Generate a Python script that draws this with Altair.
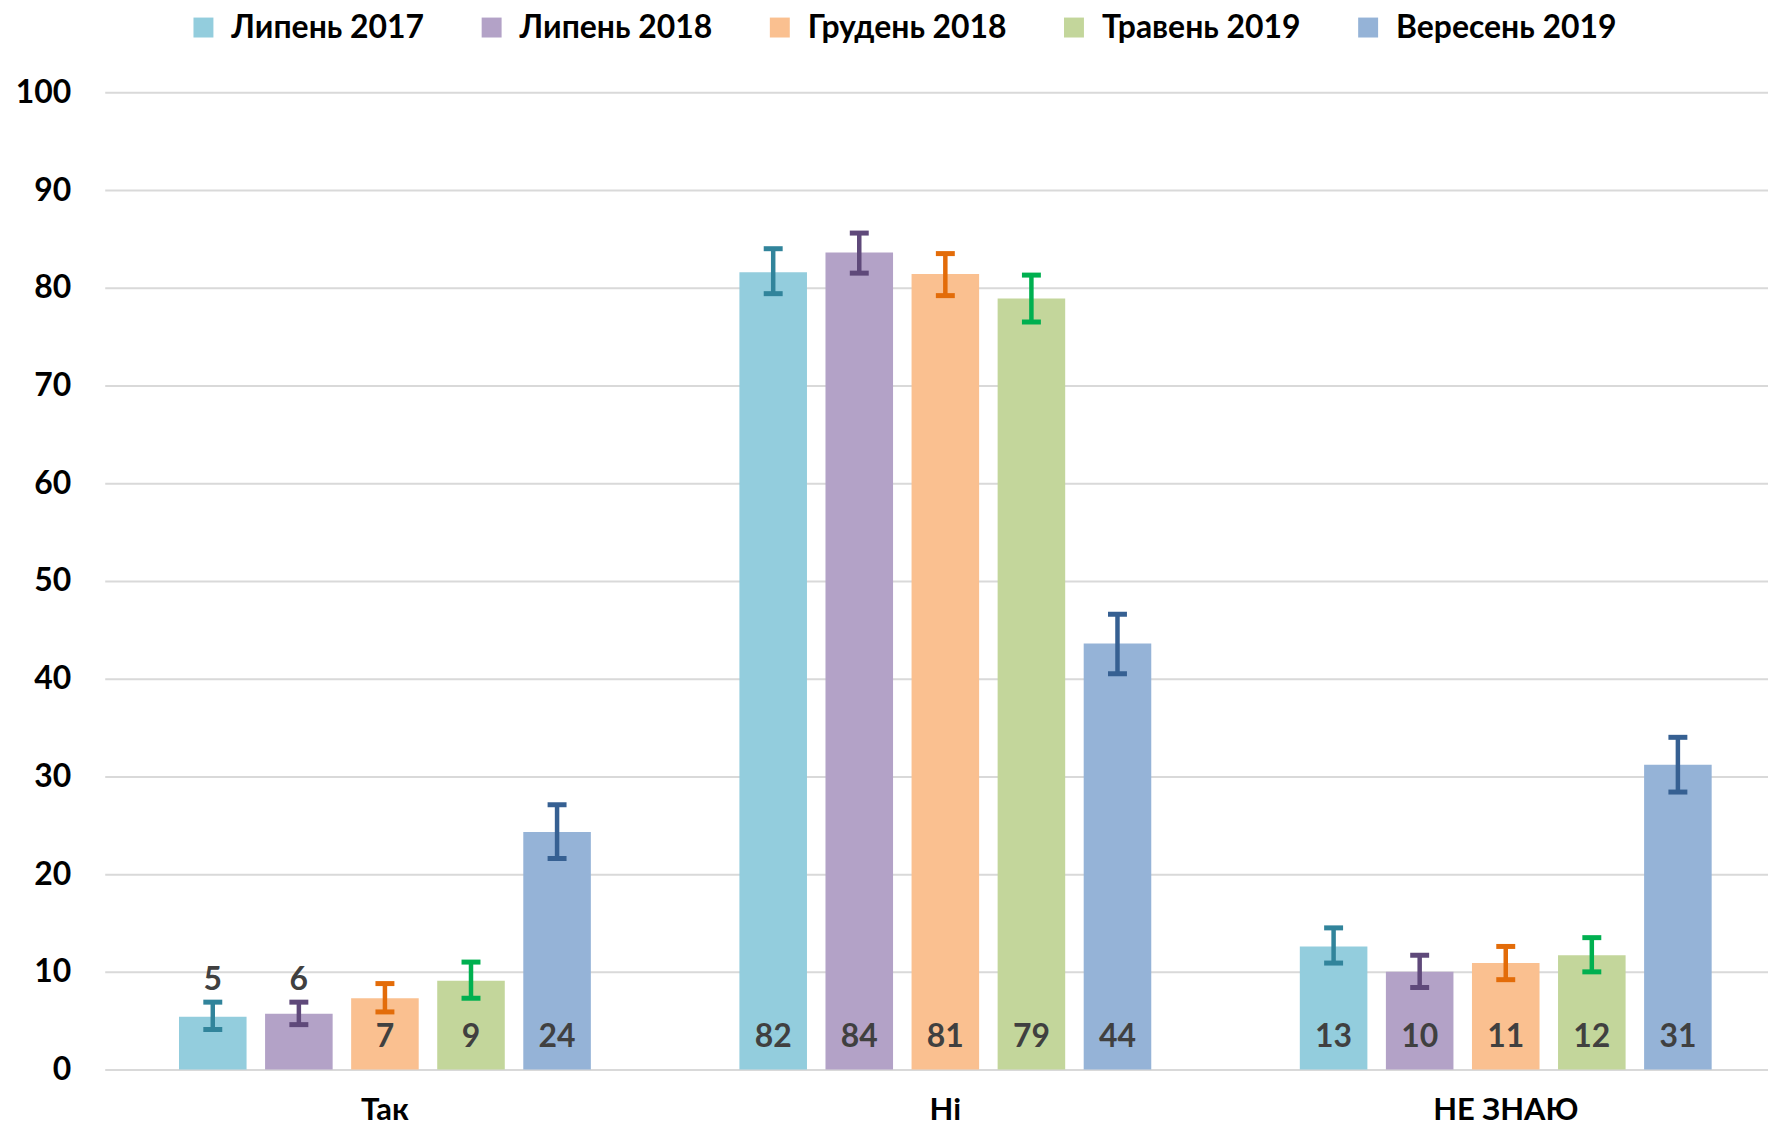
import altair as alt
import pandas as pd

categories = ["Так", "Ні", "НЕ ЗНАЮ"]
series = ["Липень 2017", "Липень 2018", "Грудень 2018", "Травень 2019", "Вересень 2019"]

values_tak = [5.4, 5.7, 7.3, 9.1, 24.3]
values_ni = [81.6, 83.6, 81.4, 78.9, 43.6]
values_dk = [12.6, 10.0, 10.9, 11.7, 31.2]

labels_tak = [5, 6, 7, 9, 24]
labels_ni = [82, 84, 81, 79, 44]
labels_dk = [13, 10, 11, 12, 31]

err_low_tak = [4.1, 4.6, 5.9, 7.3, 21.6]
err_high_tak = [6.9, 6.9, 8.8, 11.0, 27.1]
err_low_ni = [79.4, 81.5, 79.2, 76.5, 40.5]
err_high_ni = [84.0, 85.6, 83.5, 81.3, 46.6]
err_low_dk = [10.9, 8.4, 9.2, 10.0, 28.4]
err_high_dk = [14.5, 11.7, 12.6, 13.5, 34.0]

y_ticks = [0, 10, 20, 30, 40, 50, 60, 70, 80, 90, 100]

bar_colors = ["#93CDDD", "#B3A2C7", "#FAC090", "#C3D69B", "#95B3D7"]
err_colors = ["#31849B", "#5F497A", "#E36C09", "#00B050", "#366092"]

rows = []
groups = [
    (categories[0], values_tak, labels_tak, err_low_tak, err_high_tak),
    (categories[1], values_ni, labels_ni, err_low_ni, err_high_ni),
    (categories[2], values_dk, labels_dk, err_low_dk, err_high_dk),
]
for cat, vals, labs, lows, highs in groups:
    for s, v, l, lo, hi in zip(series, vals, labs, lows, highs):
        rows.append({"category": cat, "series": s, "value": v, "label": l, "lo": lo, "hi": hi})
df = pd.DataFrame(rows)

FONT = "Lato"

x_enc = alt.X(
    "category:N",
    sort=categories,
    title=None,
    scale=alt.Scale(range=[0, 1686], paddingInner=0, paddingOuter=0),
    axis=alt.Axis(
        domain=False, ticks=False, labelAngle=0, labelFont=FONT, labelFontSize=31,
        labelFontWeight="bold", labelColor="#000000", labelPadding=41,
        labelBaseline="middle", grid=False,
    ),
)
xoff_enc = alt.XOffset(
    "series:N", sort=series,
    scale=alt.Scale(paddingInner=0.215, paddingOuter=0.863),
)
y_scale = alt.Scale(domain=[0, 100], nice=False)

base = alt.Chart(df).encode(x=x_enc, xOffset=xoff_enc)

bars = base.mark_bar().encode(
    y=alt.Y(
        "value:Q", scale=y_scale, title=None,
        axis=alt.Axis(
            values=y_ticks, grid=True, gridColor="#D9D9D9", gridWidth=2,
            domain=False, ticks=False, labelFont=FONT, labelFontSize=32,
            labelFontWeight="bold", labelColor="#000000", labelPadding=34,
        ),
    ),
    color=alt.Color(
        "series:N", sort=series,
        scale=alt.Scale(domain=series, range=bar_colors),
        legend=alt.Legend(
            title=None, orient="none", legendX=83, legendY=-81, direction="horizontal",
            symbolType="square", symbolSize=400, symbolStrokeWidth=0,
            labelFont=FONT, labelFontSize=32, labelFontWeight="bold", labelLimit=400,
            labelColor="#000000", labelOffset=12, columnPadding=51, padding=0,
        ),
    ),
)

err_color = alt.Color(
    "series:N", sort=series,
    scale=alt.Scale(domain=series, range=err_colors), legend=None,
)

rules = base.mark_rule(strokeWidth=4.5).encode(
    y=alt.Y("lo:Q", scale=y_scale), y2="hi:Q", color=err_color
)
caps_hi = base.mark_tick(thickness=5, size=19, opacity=1).encode(
    y=alt.Y("hi:Q", scale=y_scale), color=err_color
)
caps_lo = base.mark_tick(thickness=5, size=19, opacity=1).encode(
    y=alt.Y("lo:Q", scale=y_scale), color=err_color
)

text_in = base.mark_text(
    font=FONT, fontSize=32, fontWeight="bold", color="#404040",
    baseline="middle", dy=-33,
).encode(y=alt.datum(0), text="label:Q").transform_filter("datum.label >= 7")

text_above = base.mark_text(
    font=FONT, fontSize=32, fontWeight="bold", color="#404040",
    baseline="middle", dy=-22,
).encode(y=alt.Y("hi:Q", scale=y_scale), text="label:Q").transform_filter("datum.label < 7")

chart = (
    alt.layer(bars, rules, caps_hi, caps_lo, text_in, text_above)
    .resolve_scale(color="independent")
    .properties(
        width=1663, height=980,
        autosize=alt.AutoSizeParams(type="none"),
        padding={"left": 97, "top": 83, "right": 5, "bottom": 58},
        background="#FFFFFF",
    )
    .configure_view(stroke=None)
)

chart.save("out.html", embed_options={"renderer": "svg", "actions": False})
